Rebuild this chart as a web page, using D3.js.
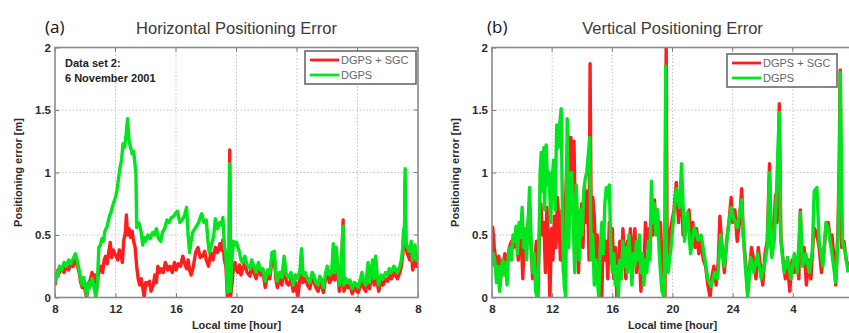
<!DOCTYPE html>
<html><head><meta charset="utf-8">
<script src="https://cdn.jsdelivr.net/npm/d3@7"></script>
<style>
body{margin:0;background:#fff;}
svg{display:block;}
</style></head>
<body>
<svg id="chart" width="849" height="333"></svg>
<script>
// ---------- data ----------
const xTickValues = [8, 12, 16, 20, 24, 28, 32];
const xTickLabels = ["8", "12", "16", "20", "24", "4", "8"];
const yTickValues = [0, 0.5, 1, 1.5, 2];
const yTickLabels = ["0", "0.5", "1", "1.5", "2"];
const seriesNames = ["DGPS + SGC", "DGPS"];
const panelTitles = ["Horizontal Positioning Error", "Vertical Positioning Error"];
const panelLetters = ["(a)", "(b)"];

// Horizontal error, DGPS + SGC  [local hour, metres]
const horizSgc = [[8.0,0.1],[8.1,0.18],[8.2,0.22],[8.3,0.2],[8.45,0.24],[8.6,0.2],[8.75,0.25],[8.9,0.22],[9.05,0.27],[9.2,0.25],[9.35,0.32],[9.5,0.25],[9.6,0.2],[9.7,0.12],[9.8,0.08],[9.9,0.13],[10.0,0.05],[10.1,0.0],[10.2,0.1],[10.35,0.15],[10.45,0.2],[10.55,0.15],[10.65,0.18],[10.75,0.05],[10.85,0.18],[10.95,0.22],[11.05,0.25],[11.15,0.2],[11.25,0.3],[11.35,0.33],[11.45,0.27],[11.55,0.36],[11.65,0.44],[11.75,0.32],[11.85,0.38],[11.95,0.35],[12.05,0.33],[12.15,0.3],[12.25,0.38],[12.35,0.35],[12.45,0.28],[12.55,0.46],[12.65,0.52],[12.72,0.66],[12.8,0.5],[12.9,0.55],[13.0,0.48],[13.1,0.53],[13.2,0.45],[13.3,0.4],[13.4,0.25],[13.5,0.15],[13.6,0.1],[13.7,0.15],[13.8,0.08],[13.9,0.0],[14.0,0.12],[14.1,0.1],[14.25,0.13],[14.35,0.05],[14.5,0.1],[14.6,0.18],[14.7,0.12],[14.8,0.25],[14.9,0.2],[15.0,0.23],[15.15,0.2],[15.3,0.28],[15.45,0.22],[15.6,0.25],[15.75,0.2],[15.9,0.28],[16.0,0.22],[16.15,0.27],[16.3,0.25],[16.45,0.33],[16.55,0.28],[16.7,0.23],[16.8,0.3],[16.9,0.22],[17.0,0.18],[17.15,0.25],[17.3,0.36],[17.45,0.4],[17.6,0.32],[17.75,0.33],[17.9,0.37],[18.0,0.3],[18.15,0.25],[18.3,0.36],[18.45,0.3],[18.6,0.4],[18.75,0.36],[18.9,0.43],[19.0,0.38],[19.1,0.46],[19.2,0.3],[19.3,0.25],[19.4,0.0],[19.5,0.05],[19.55,1.18],[19.6,0.0],[19.7,0.1],[19.8,0.25],[19.9,0.28],[20.0,0.22],[20.1,0.2],[20.2,0.26],[20.3,0.18],[20.4,0.22],[20.55,0.28],[20.7,0.2],[20.9,0.17],[21.0,0.26],[21.15,0.2],[21.3,0.15],[21.45,0.24],[21.6,0.18],[21.75,0.2],[21.9,0.08],[22.05,0.18],[22.2,0.15],[22.35,0.3],[22.5,0.33],[22.6,0.15],[22.7,0.08],[22.85,0.16],[23.0,0.1],[23.15,0.28],[23.3,0.12],[23.45,0.1],[23.6,0.15],[23.75,0.05],[23.9,0.12],[24.05,0.0],[24.2,0.16],[24.3,0.35],[24.4,0.12],[24.55,0.15],[24.7,0.1],[24.85,0.07],[25.0,0.16],[25.1,0.13],[25.25,0.08],[25.4,0.05],[25.5,0.13],[25.6,0.1],[25.75,0.04],[25.9,0.16],[26.0,0.2],[26.15,0.12],[26.3,0.15],[26.4,0.38],[26.5,0.14],[26.6,0.35],[26.7,0.2],[26.8,0.05],[26.9,0.12],[27.05,0.62],[27.1,0.05],[27.25,0.1],[27.4,0.08],[27.5,0.1],[27.65,0.03],[27.8,0.08],[27.95,0.05],[28.05,0.04],[28.2,0.1],[28.3,0.15],[28.4,0.08],[28.55,0.05],[28.7,0.24],[28.8,0.07],[29.0,0.25],[29.1,0.1],[29.2,0.28],[29.3,0.12],[29.4,0.05],[29.55,0.13],[29.7,0.1],[29.85,0.15],[30.0,0.13],[30.1,0.18],[30.25,0.15],[30.4,0.2],[30.55,0.17],[30.65,0.15],[30.8,0.2],[30.9,0.25],[31.0,0.35],[31.05,0.5],[31.1,0.4],[31.15,0.95],[31.2,0.4],[31.3,0.35],[31.45,0.3],[31.55,0.4],[31.65,0.22],[31.8,0.3],[31.9,0.25],[32.0,0.28]];

// Horizontal error, DGPS
const horizDgps = [[8.0,0.12],[8.1,0.2],[8.2,0.17],[8.3,0.25],[8.45,0.22],[8.6,0.28],[8.75,0.25],[8.9,0.3],[9.05,0.27],[9.2,0.31],[9.35,0.35],[9.5,0.28],[9.6,0.22],[9.7,0.15],[9.8,0.1],[9.9,0.16],[10.0,0.08],[10.1,0.02],[10.2,0.12],[10.3,0.08],[10.45,0.15],[10.55,0.1],[10.7,0.0],[10.8,0.12],[10.9,0.4],[11.0,0.42],[11.1,0.47],[11.2,0.45],[11.3,0.53],[11.45,0.57],[11.6,0.65],[11.7,0.68],[11.85,0.75],[12.0,0.8],[12.1,0.86],[12.2,0.95],[12.3,1.04],[12.4,1.1],[12.5,1.23],[12.6,1.2],[12.7,1.3],[12.8,1.43],[12.9,1.25],[13.0,1.2],[13.1,1.15],[13.2,1.17],[13.3,1.05],[13.35,1.0],[13.4,0.56],[13.5,0.6],[13.6,0.58],[13.7,0.52],[13.8,0.42],[13.9,0.48],[14.0,0.45],[14.15,0.5],[14.3,0.47],[14.45,0.52],[14.6,0.5],[14.7,0.55],[14.85,0.47],[15.0,0.45],[15.1,0.52],[15.25,0.55],[15.4,0.62],[15.55,0.6],[15.7,0.64],[15.85,0.65],[16.0,0.68],[16.1,0.69],[16.25,0.6],[16.4,0.62],[16.55,0.65],[16.7,0.72],[16.8,0.5],[16.9,0.36],[17.0,0.45],[17.1,0.52],[17.3,0.56],[17.5,0.6],[17.6,0.64],[17.7,0.67],[17.85,0.6],[18.0,0.62],[18.1,0.47],[18.2,0.36],[18.35,0.42],[18.5,0.5],[18.6,0.63],[18.75,0.55],[18.9,0.6],[19.0,0.58],[19.1,0.64],[19.2,0.42],[19.3,0.34],[19.4,0.04],[19.5,0.1],[19.55,1.07],[19.6,0.05],[19.7,0.3],[19.8,0.45],[19.9,0.42],[20.0,0.44],[20.1,0.4],[20.2,0.36],[20.3,0.3],[20.4,0.28],[20.55,0.33],[20.7,0.26],[20.9,0.23],[21.0,0.3],[21.15,0.25],[21.3,0.2],[21.45,0.28],[21.6,0.22],[21.75,0.23],[21.9,0.13],[22.05,0.22],[22.2,0.19],[22.35,0.36],[22.5,0.37],[22.6,0.2],[22.7,0.13],[22.85,0.2],[23.0,0.16],[23.15,0.33],[23.3,0.18],[23.45,0.16],[23.6,0.2],[23.75,0.1],[23.9,0.18],[24.05,0.15],[24.2,0.22],[24.3,0.39],[24.4,0.18],[24.55,0.2],[24.7,0.15],[24.85,0.12],[25.0,0.2],[25.1,0.18],[25.25,0.12],[25.4,0.1],[25.5,0.17],[25.6,0.15],[25.75,0.08],[25.9,0.2],[26.0,0.25],[26.15,0.18],[26.3,0.2],[26.4,0.43],[26.5,0.2],[26.6,0.4],[26.7,0.25],[26.8,0.1],[26.9,0.18],[27.05,0.57],[27.1,0.1],[27.25,0.15],[27.4,0.12],[27.5,0.14],[27.65,0.07],[27.8,0.12],[27.95,0.1],[28.05,0.08],[28.2,0.15],[28.3,0.2],[28.4,0.13],[28.55,0.1],[28.7,0.28],[28.8,0.12],[29.0,0.3],[29.1,0.15],[29.2,0.33],[29.3,0.18],[29.4,0.1],[29.55,0.18],[29.7,0.15],[29.85,0.2],[30.0,0.18],[30.1,0.23],[30.25,0.2],[30.4,0.25],[30.55,0.22],[30.65,0.2],[30.8,0.25],[30.9,0.3],[31.0,0.4],[31.05,0.55],[31.1,0.45],[31.15,1.03],[31.2,0.45],[31.3,0.4],[31.45,0.37],[31.55,0.45],[31.65,0.3],[31.8,0.42],[31.9,0.3],[32.0,0.35]];

// Vertical error, DGPS + SGC
const vertSgc = [[8.0,0.3],[8.05,0.56],[8.15,0.4],[8.25,0.3],[8.35,0.2],[8.45,0.33],[8.55,0.1],[8.65,0.3],[8.75,0.25],[8.85,0.35],[8.95,0.2],[9.05,0.32],[9.15,0.4],[9.3,0.45],[9.45,0.4],[9.6,0.5],[9.75,0.3],[9.85,0.55],[9.95,0.45],[10.05,0.15],[10.15,0.5],[10.25,0.35],[10.35,0.55],[10.5,0.7],[10.6,0.4],[10.7,0.15],[10.85,0.3],[10.95,0.45],[11.05,0.0],[11.15,0.5],[11.25,0.75],[11.35,0.5],[11.45,0.6],[11.55,0.2],[11.65,0.72],[11.75,0.4],[11.85,0.0],[11.95,0.55],[12.05,0.3],[12.15,0.65],[12.25,0.4],[12.35,0.8],[12.45,0.6],[12.55,0.3],[12.65,0.7],[12.75,0.2],[12.85,0.6],[12.95,1.0],[13.05,1.3],[13.15,1.0],[13.25,1.28],[13.35,0.8],[13.45,1.25],[13.55,0.5],[13.65,0.7],[13.75,0.2],[13.85,0.5],[13.95,0.75],[14.05,0.4],[14.15,0.9],[14.25,0.6],[14.35,0.85],[14.45,0.3],[14.52,1.87],[14.6,0.5],[14.7,0.8],[14.8,0.65],[14.9,0.3],[15.0,0.5],[15.1,0.2],[15.2,0.35],[15.3,0.0],[15.4,0.55],[15.5,0.3],[15.6,0.45],[15.7,0.15],[15.8,0.6],[15.9,0.35],[16.0,0.55],[16.1,0.15],[16.2,0.4],[16.3,0.0],[16.4,0.25],[16.5,0.45],[16.6,0.2],[16.7,0.55],[16.8,0.35],[16.9,0.15],[17.0,0.45],[17.1,0.3],[17.2,0.55],[17.3,0.25],[17.4,0.4],[17.5,0.55],[17.6,0.2],[17.7,0.45],[17.8,0.35],[17.9,0.05],[18.0,0.3],[18.1,0.2],[18.2,0.6],[18.3,0.4],[18.4,0.55],[18.5,0.35],[18.6,0.65],[18.7,0.5],[18.8,0.78],[18.9,0.55],[19.0,0.7],[19.1,0.45],[19.2,0.6],[19.3,0.3],[19.4,0.1],[19.5,0.0],[19.58,2.05],[19.65,0.25],[19.8,0.5],[19.95,0.6],[20.1,0.7],[20.25,0.92],[20.4,0.6],[20.5,0.75],[20.6,0.9],[20.7,0.5],[20.85,0.6],[21.0,0.55],[21.1,0.7],[21.2,0.45],[21.35,0.6],[21.5,0.4],[21.6,0.55],[21.75,0.35],[21.9,0.45],[22.05,0.3],[22.2,0.25],[22.35,0.1],[22.5,0.0],[22.6,0.15],[22.75,0.25],[22.9,0.1],[23.05,0.3],[23.15,0.65],[23.3,0.4],[23.45,0.2],[23.6,0.45],[23.75,0.6],[23.9,0.8],[24.0,0.6],[24.15,0.7],[24.3,0.45],[24.45,0.6],[24.6,0.87],[24.7,0.5],[24.85,0.3],[25.0,0.05],[25.1,0.2],[25.25,0.4],[25.4,0.3],[25.55,0.15],[25.7,0.4],[25.85,0.25],[26.0,0.1],[26.15,0.35],[26.3,0.45],[26.45,1.07],[26.55,0.4],[26.7,0.5],[26.85,0.82],[26.95,0.6],[27.1,1.55],[27.2,0.5],[27.35,0.3],[27.5,0.15],[27.65,0.25],[27.8,0.05],[27.95,0.3],[28.1,0.2],[28.25,0.3],[28.4,0.15],[28.5,0.7],[28.6,0.3],[28.75,0.4],[28.9,0.1],[29.05,0.3],[29.2,0.15],[29.35,0.45],[29.45,0.55],[29.6,0.5],[29.75,0.4],[29.9,0.2],[30.05,0.35],[30.2,0.55],[30.35,0.6],[30.5,0.45],[30.6,0.5],[30.75,0.3],[30.85,0.1],[31.0,0.55],[31.08,1.05],[31.15,1.82],[31.25,0.4],[31.4,0.45],[31.55,0.3],[31.7,0.25]];

// Vertical error, DGPS
const vertDgps = [[8.0,0.25],[8.1,0.35],[8.2,0.28],[8.3,0.12],[8.4,0.25],[8.5,0.05],[8.6,0.2],[8.7,0.3],[8.8,0.18],[8.9,0.28],[9.0,0.1],[9.1,0.35],[9.2,0.4],[9.3,0.3],[9.4,0.5],[9.5,0.45],[9.6,0.57],[9.7,0.35],[9.8,0.6],[9.9,0.48],[10.0,0.72],[10.1,0.4],[10.2,0.55],[10.3,0.3],[10.4,0.6],[10.5,0.88],[10.6,0.45],[10.7,0.2],[10.8,0.35],[10.9,0.05],[11.0,0.0],[11.1,0.3],[11.2,1.0],[11.27,1.16],[11.35,0.85],[11.45,1.2],[11.5,0.7],[11.6,1.22],[11.7,0.9],[11.8,1.0],[11.9,0.6],[12.0,0.95],[12.1,1.1],[12.2,0.7],[12.3,1.38],[12.4,1.2],[12.5,1.38],[12.6,1.51],[12.65,1.0],[12.7,0.5],[12.8,0.1],[12.9,0.0],[13.0,1.43],[13.1,0.4],[13.2,0.9],[13.3,1.0],[13.4,0.6],[13.5,0.2],[13.6,0.9],[13.7,0.6],[13.8,0.3],[13.9,0.7],[14.0,0.5],[14.1,0.85],[14.2,0.95],[14.3,1.0],[14.5,1.28],[14.55,0.7],[14.6,0.3],[14.7,0.5],[14.8,0.1],[14.9,0.3],[15.0,0.15],[15.1,0.0],[15.2,0.4],[15.3,0.6],[15.4,0.35],[15.5,0.75],[15.6,0.88],[15.7,0.8],[15.8,0.9],[15.9,0.4],[16.0,0.2],[16.1,0.35],[16.2,0.1],[16.3,0.25],[16.4,0.0],[16.5,0.3],[16.6,0.15],[16.7,0.45],[16.8,0.25],[16.9,0.4],[17.0,0.2],[17.1,0.5],[17.2,0.3],[17.3,0.1],[17.4,0.35],[17.5,0.25],[17.6,0.45],[17.7,0.3],[17.8,0.5],[17.9,0.2],[18.0,0.35],[18.1,0.1],[18.2,0.3],[18.3,0.2],[18.4,0.45],[18.5,0.3],[18.6,0.93],[18.7,0.6],[18.8,0.75],[18.9,0.5],[19.0,0.7],[19.1,0.4],[19.2,0.2],[19.3,0.05],[19.45,0.0],[19.55,1.85],[19.6,0.2],[19.7,0.2],[19.9,0.4],[20.05,0.6],[20.25,0.87],[20.47,0.72],[20.6,1.07],[20.8,0.45],[21.0,0.68],[21.2,0.35],[21.45,0.56],[21.7,0.46],[21.9,0.5],[22.1,0.35],[22.35,0.15],[22.57,0.09],[22.8,0.2],[23.0,0.15],[23.2,0.5],[23.45,0.25],[23.67,0.53],[23.9,0.72],[24.1,0.62],[24.3,0.56],[24.6,0.78],[24.8,0.32],[25.0,0.0],[25.2,0.32],[25.4,0.2],[25.65,0.35],[25.9,0.15],[26.1,0.25],[26.3,0.4],[26.45,1.0],[26.6,0.32],[26.76,0.45],[26.9,0.8],[27.1,1.48],[27.2,0.45],[27.43,0.2],[27.65,0.32],[27.87,0.15],[28.1,0.35],[28.3,0.2],[28.5,0.68],[28.64,0.25],[28.86,0.35],[29.1,0.2],[29.3,0.38],[29.42,0.85],[29.6,0.88],[29.75,0.45],[30.0,0.25],[30.2,0.6],[30.4,0.52],[30.6,0.35],[30.85,0.12],[31.0,0.45],[31.1,1.0],[31.15,1.8],[31.3,0.45],[31.5,0.35],[31.67,0.2]];

const panelSeries = [[horizSgc, horizDgps], [vertSgc, vertDgps]];
const seriesColors = ["#ff1e1e", "#00e61e"];

// ---------- layout ----------
const panels = [
  {left: 55, right: 418, letterX: 45, legendX: 305, legendY: 51, legendW: 111, note: true, lastLabel: true},
  {left: 492, right: 853, letterX: 487, legendX: 727, legendY: 54, legendW: 110, note: false, lastLabel: false}
];
const plotTop = 47.5, plotBottom = 297.5;

const svg = d3.select("#chart");
const font = "'Liberation Sans', Arial, Helvetica, sans-serif";

panels.forEach((p, pi) => {
  const x = d3.scaleLinear().domain([8, 32]).range([p.left, p.right]);
  const y = d3.scaleLinear().domain([0, 2]).range([plotBottom, plotTop]);
  const g = svg.append("g");

  g.append("rect").attr("x", p.left).attr("y", plotTop).attr("width", p.right - p.left)
    .attr("height", plotBottom - plotTop).attr("fill", "#fff");

  // grid
  g.selectAll(".gx").data(xTickValues.slice(1, -1)).join("line")
    .attr("x1", d => x(d)).attr("x2", d => x(d)).attr("y1", plotTop).attr("y2", plotBottom)
    .attr("stroke", "#c4c4c4").attr("stroke-width", 1).attr("stroke-dasharray", "1.5,2");
  g.selectAll(".gy").data(yTickValues.slice(1, -1)).join("line")
    .attr("x1", p.left).attr("x2", p.right).attr("y1", d => y(d)).attr("y2", d => y(d))
    .attr("stroke", "#c4c4c4").attr("stroke-width", 1).attr("stroke-dasharray", "1.5,2");

  const clipId = "clip" + pi;
  svg.append("defs").append("clipPath").attr("id", clipId).append("rect")
    .attr("x", p.left).attr("y", plotTop).attr("width", p.right - p.left).attr("height", plotBottom - plotTop);

  const line = d3.line().x(d => x(d[0])).y(d => y(Math.min(d[1], 2.05)));
  panelSeries[pi].forEach((s, si) => {
    g.append("path").datum(s).attr("d", line).attr("clip-path", `url(#${clipId})`)
      .attr("fill", "none").attr("stroke", seriesColors[si]).attr("stroke-width", 3.4)
      .attr("stroke-linejoin", "round");
  });

  const xAxis = d3.axisBottom(x).tickValues(xTickValues).tickSize(-4).tickPadding(7)
    .tickFormat((d, i) => (i === xTickValues.length - 1 && !p.lastLabel) ? "" : xTickLabels[i]);
  const yAxis = d3.axisLeft(y).tickValues(yTickValues).tickSize(-4).tickPadding(4)
    .tickFormat((d, i) => yTickLabels[i]);

  const xa = g.append("g").attr("transform", `translate(0,${plotBottom})`).call(xAxis);
  const ya = g.append("g").attr("transform", `translate(${p.left},0)`).call(yAxis);
  [xa, ya].forEach(a => {
    a.select(".domain").remove();
    a.selectAll(".tick line").attr("stroke", "#777");
    a.selectAll(".tick text").attr("fill", "#2a2a2a").style("font-family", font)
      .style("font-size", "11.5px").style("font-weight", "bold");
  });
  g.selectAll(".tt").data(xTickValues).join("line")
    .attr("x1", d => x(d)).attr("x2", d => x(d)).attr("y1", plotTop).attr("y2", plotTop + 4).attr("stroke", "#777");
  g.selectAll(".tr").data(yTickValues).join("line")
    .attr("x1", p.right).attr("x2", p.right - 4).attr("y1", d => y(d)).attr("y2", d => y(d)).attr("stroke", "#777");

  g.append("rect").attr("x", p.left).attr("y", plotTop).attr("width", p.right - p.left)
    .attr("height", plotBottom - plotTop).attr("fill", "none").attr("stroke", "#8a8a8a").attr("stroke-width", 1.6);

  g.append("text").attr("x", (p.left + p.right) / 2).attr("y", 34)
    .attr("text-anchor", "middle").style("font-family", font).style("font-size", "16.5px")
    .attr("fill", "#3a3a3a").text(panelTitles[pi]);
  g.append("text").attr("x", p.letterX).attr("y", 33)
    .style("font-family", "'Open Sans', 'Noto Sans', sans-serif").style("font-size", "17px")
    .attr("fill", "#111").text(panelLetters[pi]);

  g.append("text").attr("x", x(20)).attr("y", 329).attr("text-anchor", "middle")
    .style("font-family", font).style("font-size", "11px").style("font-weight", "bold")
    .attr("fill", "#2a2a2a").text("Local time [hour]");
  g.append("text").attr("transform", `translate(${p.left - 33},${y(1)}) rotate(-90)`)
    .attr("text-anchor", "middle").style("font-family", font).style("font-size", "11px")
    .style("font-weight", "bold").attr("fill", "#2a2a2a").text("Positioning error [m]");

  const lg = g.append("g").attr("transform", `translate(${p.legendX},${p.legendY})`);
  lg.append("rect").attr("width", p.legendW).attr("height", 33).attr("fill", "#fff")
    .attr("stroke", "#6a6a6a").attr("stroke-width", 1.6);
  seriesNames.forEach((n, i) => {
    const ly = 9 + i * 15;
    lg.append("line").attr("x1", 5).attr("x2", 34).attr("y1", ly).attr("y2", ly)
      .attr("stroke", seriesColors[i]).attr("stroke-width", 2.8);
    lg.append("text").attr("x", 36).attr("y", ly + 4).style("font-family", font)
      .style("font-size", "11px").attr("fill", "#666").text(n);
  });

  if (p.note) {
    g.append("text").attr("x", 65).attr("y", 67).style("font-family", font)
      .style("font-size", "11px").style("font-weight", "bold").attr("fill", "#222").text("Data set 2:");
    g.append("text").attr("x", 65).attr("y", 82).style("font-family", font)
      .style("font-size", "11px").style("font-weight", "bold").attr("fill", "#222").text("6 November 2001");
  }
});
</script>
</body></html>
